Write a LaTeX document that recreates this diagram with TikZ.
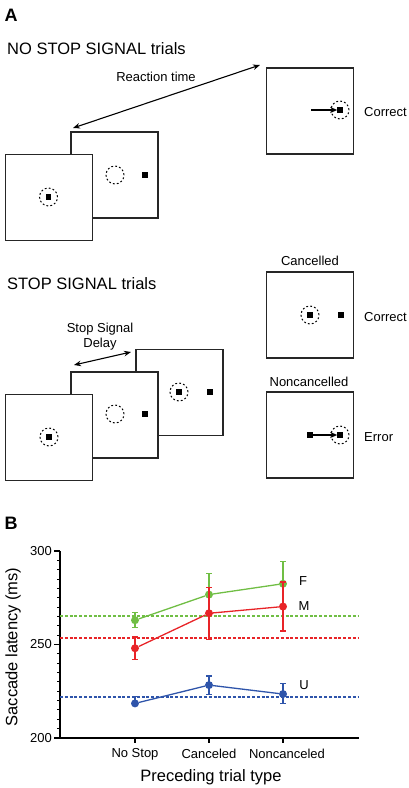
\documentclass[tikz,border=0pt]{standalone}
\usepackage{fontspec}
\setmainfont{Liberation Sans}
\usetikzlibrary{arrows.meta}
\definecolor{cgreen}{RGB}{112,190,68}
\definecolor{cred}{RGB}{232,36,40}
\definecolor{cblue}{RGB}{46,84,170}
\tikzset{
  screen/.style={draw=black!85,line width=1.3pt,fill=white,minimum width=87pt,minimum height=86pt,inner sep=0pt},
  sq/.style={fill=black,minimum size=5.2pt,inner sep=0pt},
  ring/.style={circle,draw=black,line width=1pt,dash pattern=on 1.8pt off 2.2pt,minimum size=18pt,inner sep=0pt},
  t13/.style={font=\fontsize{13}{15}\selectfont,inner sep=0pt},
  t16/.style={font=\fontsize{16.5}{19}\selectfont,inner sep=0pt},
  panel/.style={font=\fontsize{18}{20}\selectfont\bfseries,inner sep=0pt},
  darrow/.style={line width=1.1pt,{Stealth[length=7pt,width=5.5pt]}-{Stealth[length=7pt,width=5.5pt]}},
  sarrow/.style={line width=1.1pt,-{Stealth[length=7pt,width=6pt]}},
  dot/.style={circle,inner sep=0pt,minimum size=8pt},
  ebar/.style={line width=1.2pt},
  dline/.style={line width=1.6pt,dash pattern=on 3pt off 1.8pt},
}
\begin{document}
\begin{tikzpicture}[x=1pt,y=-1pt]
\useasboundingbox (0,0) rectangle (408,788);
% panel A
\node[panel] (A) at (11,15) {A};
\node[t16,anchor=west] (ns) at (7,49) {NO STOP SIGNAL trials};
% no stop signal screens
\node[screen] (nb) at (114.5,175) {};
\node[sq] (nbs) at (145,175) {};
\node[ring] (nbr) at (115,175) {};
\node[screen] (nf) at (49,197.5) {};
\node[ring] (nfr) at (48.5,197) {};
\node[sq] (nfs) at (48.5,197) {};
\node[screen] (nc) at (310,111) {};
\node[ring] (ncr) at (340,110) {};
\node[sq] (ncs) at (340,110) {};
\coordinate (nca) at (311,110);
\draw[sarrow] (nca) -- (ncs.west);
\node[t13,anchor=west] (corr1) at (364,112) {Correct};
\coordinate (rt1) at (73,128);
\coordinate (rt2) at (260,65);
\draw[darrow] (rt1) -- (rt2);
\node[t13] (rt) at (156,77) {Reaction time};
% stop signal
\node[t16,anchor=west] (ss) at (7,284) {STOP SIGNAL trials};
\node[t13] (ssd1) at (100,329) {Stop Signal};
\node[t13] (ssd2) at (100,344) {Delay};
\coordinate (sd1) at (74,365);
\coordinate (sd2) at (131,352);
\draw[darrow] (sd1) -- (sd2);
\node[screen] (s3) at (179.5,392.5) {};
\node[ring] (s3r) at (179,392) {};
\node[sq] (s3s) at (179,392) {};
\node[sq] (s3t) at (210,392) {};
\node[screen] (s2) at (114.5,415) {};
\node[ring] (s2r) at (115,414) {};
\node[sq] (s2t) at (145,414) {};
\node[screen] (s1) at (49,437.5) {};
\node[ring] (s1r) at (49,437) {};
\node[sq] (s1s) at (49,437) {};
% cancelled
\node[t13] (canc) at (310,261) {Cancelled};
\node[screen] (cb) at (310,315) {};
\node[ring] (cbr) at (310,315) {};
\node[sq] (cbs) at (310,315) {};
\node[sq] (cbt) at (341,315) {};
\node[t13,anchor=west] (corr2) at (364,317) {Correct};
% noncancelled
\node[t13] (nonc) at (309,382) {Noncancelled};
\node[screen] (nb2) at (310,435) {};
\node[ring] (nbr2) at (340,435) {};
\node[sq] (nbs2) at (340,435) {};
\node[sq] (nbt2) at (310,435) {};
\draw[sarrow] (nbt2) -- (nbs2.west);
\node[t13,anchor=west] (err) at (364,437) {Error};
% panel B
\node[panel] (B) at (11,523) {B};
\begin{scope}[shift={(60,738)},x=1pt,y=1.87pt]
  % axes
  \coordinate (o) at (0,0);
  \coordinate (yt) at (0,100);
  \coordinate (xe) at (299,0);
  \draw[line width=1.3pt] (yt) -- (o) -- (xe);
  \foreach \v in {0,50,100} \draw[line width=1.2pt] (0,\v) -- (-6,\v);
  \foreach \v in {5,10,...,95} \draw[line width=1pt] (0,\v) -- (-3.5,\v);
  \foreach \c in {75,149,223} \draw[line width=1.1pt] (\c,0) -- (\c,-2.5);
  \node[t13,anchor=east] (l300) at (-8,100) {300};
  \node[t13,anchor=east] (l250) at (-8,50) {250};
  \node[t13,anchor=east] (l200) at (-8,0) {200};
  % reference lines
  \coordinate (g0) at (0,65.4); \coordinate (g1) at (299,65.4);
  \coordinate (r0) at (0,53.6); \coordinate (r1) at (299,53.6);
  \coordinate (b0) at (0,21.8); \coordinate (b1) at (299,21.8);
  \draw[dline,cgreen] (g0) -- (g1);
  \draw[dline,cred,line width=1.8pt] (r0) -- (r1);
  \draw[dline,cblue] (b0) -- (b1);
  % green
  \begin{scope}[cgreen]
    \draw[ebar] (75,59) -- (75,67) (72,59) -- (78,59) (72,67) -- (78,67);
    \draw[ebar] (149,66) -- (149,88) (146,88) -- (152,88);
    \draw[ebar] (223,71) -- (223,94.6) (220,94.6) -- (226,94.6);
    \node[dot,fill=cgreen] (g1p) at (75,63) {};
    \node[dot,fill=cgreen] (g2p) at (149,76.7) {};
    \node[dot,fill=cgreen] (g3p) at (223,82.5) {};
    \draw[line width=1.3pt] (g1p) -- (g2p) -- (g3p);
  \end{scope}
  % red
  \begin{scope}[cred]
    \draw[ebar] (75,42) -- (75,54) (72,42) -- (78,42) (72,54) -- (78,54);
    \draw[ebar] (149,52.8) -- (149,80.6) (146,52.8) -- (152,52.8) (146,80.6) -- (152,80.6);
    \draw[ebar] (223,57.2) -- (223,83.4) (220,57.2) -- (226,57.2) (220,83.4) -- (226,83.4);
    \node[dot,fill=cred] (r1p) at (75,48) {};
    \node[dot,fill=cred] (r2p) at (149,66.7) {};
    \node[dot,fill=cred] (r3p) at (223,70.3) {};
    \draw[line width=1.3pt] (r1p) -- (r2p) -- (r3p);
  \end{scope}
  % blue
  \begin{scope}[cblue]
    \draw[ebar] (75,18) -- (75,22) (72,22) -- (78,22);
    \draw[ebar] (149,23.4) -- (149,33.2) (146,23.4) -- (152,23.4) (146,33.2) -- (152,33.2);
    \draw[ebar] (223,18.5) -- (223,29.2) (220,18.5) -- (226,18.5) (220,29.2) -- (226,29.2);
    \node[dot,fill=cblue] (b1p) at (75,18.5) {};
    \node[dot,fill=cblue] (b2p) at (149,28.3) {};
    \node[dot,fill=cblue] (b3p) at (223,23.5) {};
    \draw[line width=1.3pt] (b1p) -- (b2p) -- (b3p);
  \end{scope}
\end{scope}
\node[t13] (F) at (303,581) {F};
\node[t13] (M) at (304,606) {M};
\node[t13] (U) at (304,685) {U};
\node[t13] (x1) at (135,754) {No Stop};
\node[t13] (x2) at (209,754) {Canceled};
\node[t13] (x3) at (287,754) {Noncanceled};
\node[t16] (xl) at (211,777) {Preceding trial type};
\node[t16,rotate=90] (yl) at (13,647) {Saccade latency (ms)};
\end{tikzpicture}
\end{document}
